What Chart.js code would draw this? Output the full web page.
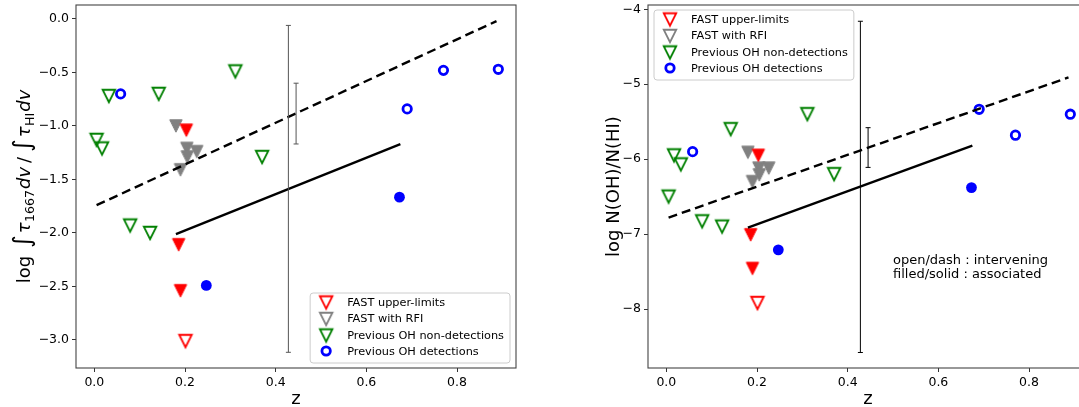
<!DOCTYPE html>
<html>
<head>
<meta charset="utf-8">
<script src="https://cdn.jsdelivr.net/npm/chart.js@4.4.0/dist/chart.umd.min.js"></script>
<style>
  html, body { margin: 0; padding: 0; background: #fff; overflow: hidden; }
  #wrap { position: relative; width: 1079px; height: 407px; overflow: hidden; }
  #left { position: absolute; left: 0; top: 0; }
  #right { position: absolute; left: 540px; top: 0; }
</style>
</head>
<body>
<div id="wrap">
  <canvas id="left" width="540" height="407" style="width:540px;height:407px"></canvas>
  <canvas id="right" width="550" height="407" style="width:550px;height:407px"></canvas>
</div>
<script>
// ---- data (z = redshift, ratio = log ∫τ1667dv/∫τHIdv, abund = log N(OH)/N(HI)) ----
const zTicks = [0.0, 0.2, 0.4, 0.6, 0.8];
const ratioTicks = [0.0, -0.5, -1.0, -1.5, -2.0, -2.5, -3.0];
const abundTicks = [-4, -5, -6, -7, -8];

// FAST upper limits: filled = associated, open = intervening
const fastFilledZ = [0.203, 0.186, 0.190];
const fastFilledRatio = [-1.04, -2.11, -2.54];
const fastFilledAbund = [-5.95, -7.01, -7.46];
const fastOpenZ = [0.201];
const fastOpenRatio = [-3.01];
const fastOpenAbund = [-7.92];

// FAST with RFI
const rfiZ = [0.180, 0.204, 0.226, 0.205, 0.190];
const rfiRatio = [-1.00, -1.21, -1.24, -1.29, -1.41];
const rfiAbund = [-5.91, -6.12, -6.12, -6.21, -6.30];

// previous OH non-detections
const nonDetZ = [0.005, 0.017, 0.032, 0.079, 0.123, 0.142, 0.311, 0.370];
const nonDetRatio = [-1.13, -1.21, -0.72, -1.93, -2.00, -0.70, -0.49, -1.29];
const nonDetAbund = [-6.50, -5.95, -6.07, -6.83, -6.90, -5.60, -5.40, -6.20];

// previous OH detections
const detOpenZ = [0.058, 0.690, 0.770, 0.891];
const detOpenRatio = [-0.70, -0.84, -0.48, -0.47];
const detOpenAbund = [-5.90, -5.335, -5.68, -5.40];
const detFilledZ = [0.673, 0.247];
const detFilledRatio = [-1.665, -2.49];
const detFilledAbund = [-6.38, -7.21];

// fitted lines
const dashZ = [0.005, 0.887];
const dashRatio = [-1.74, -0.02];
const dashAbund = [-6.78, -4.91];
const solidZ = [0.18, 0.675];
const solidRatio = [-2.01, -1.17];
const solidAbund = [-6.915, -5.82];

// representative error bars
const errZ = [0.428, 0.445];
const errRatioLo = [-3.115, -1.168];
const errRatioHi = [-0.06, -0.60];
const errAbundLo = [-8.58, -6.11];
const errAbundHi = [-4.16, -5.58];

const legendLabels = ['FAST upper-limits', 'FAST with RFI', 'Previous OH non-detections', 'Previous OH detections'];
const noteLines = ['open/dash : intervening', 'filled/solid : associated'];
const noteZ = 0.50;
const noteAbund = -7.35;

// ---- styling helpers ----
const FONT = '"DejaVu Sans", "Liberation Sans", sans-serif';
const RED = '#ff0000', GRAY = '#808080', GREEN = '#008000', BLUE = '#0000ff';

function triangle(color, filled) {
    // matplotlib 'v' marker: bounding box centred on the point
    const c = document.createElement('canvas');
    c.width = 18; c.height = 18;
    const g = c.getContext('2d');
    const s = 12.4, m = 9;
    g.beginPath();
    g.moveTo(m - s / 2, m - s / 2);
    g.lineTo(m + s / 2, m - s / 2);
    g.lineTo(m, m + s / 2);
    g.closePath();
    g.strokeStyle = color;
    if (filled) {
        g.fillStyle = color;
        g.fill();
        g.lineWidth = 1;
    } else {
        g.lineWidth = 1.9;
    }
    g.stroke();
    return c;
}

const triRedOpen = triangle(RED, false);
const triRedFilled = triangle(RED, true);
const triGrayOpen = triangle(GRAY, false);
const triGrayFilled = triangle(GRAY, true);
const triGreenOpen = triangle(GREEN, false);

const pts = (xs, ys) => xs.map((x, i) => ({ x: x, y: ys[i] }));

function markerSet(data, style) {
    return Object.assign({
        data: data,
        showLine: false,
        pointRadius: 7,
        pointHoverRadius: 7,
        pointBorderWidth: 0,
        pointBackgroundColor: 'rgba(0,0,0,0)',
        pointBorderColor: 'rgba(0,0,0,0)'
    }, style);
}

function lineSet(data, dash) {
    return {
        data: data,
        showLine: true,
        borderColor: '#000',
        borderWidth: 2.4,
        borderDash: dash,
        pointRadius: 0,
        fill: false
    };
}

const legendMarkers = [
    { img: triRedOpen },
    { img: triGrayOpen },
    { img: triGreenOpen },
    { circle: true }
];

function makeDecor(cfg) {
    return {
        id: 'decor',
        afterDatasetsDraw(chart) {
            const ctx = chart.ctx;
            const a = chart.chartArea;
            const xs = chart.scales.x, ys = chart.scales.y;
            ctx.save();

            // error bars
            ctx.strokeStyle = cfg.errColor;
            ctx.lineWidth = 1;
            errZ.forEach((z, i) => {
                const px = xs.getPixelForValue(z);
                const top = ys.getPixelForValue(cfg.errHi[i]);
                const bot = ys.getPixelForValue(cfg.errLo[i]);
                ctx.beginPath();
                ctx.moveTo(px, top); ctx.lineTo(px, bot);
                ctx.moveTo(px - 2.5, top); ctx.lineTo(px + 2.5, top);
                ctx.moveTo(px - 2.5, bot); ctx.lineTo(px + 2.5, bot);
                ctx.stroke();
            });

            // frame
            ctx.strokeStyle = '#444';
            ctx.lineWidth = 1.1;
            ctx.strokeRect(a.left, a.top, a.right - a.left, a.bottom - a.top);

            // legend
            ctx.font = '11.3px ' + FONT;
            const tw = Math.max.apply(null, legendLabels.map(t => ctx.measureText(t).width));
            const bw = 37 + tw + 6, bh = 70;
            let bx, by;
            if (cfg.legendCorner === 'br') {
                bx = a.right - 6 - bw; by = a.bottom - 5 - bh;
            } else {
                bx = a.left + 6; by = a.top + 5;
            }
            ctx.beginPath();
            ctx.roundRect(bx, by, bw, bh, 3);
            ctx.fillStyle = 'rgba(255,255,255,0.85)';
            ctx.fill();
            ctx.strokeStyle = '#cccccc';
            ctx.lineWidth = 1;
            ctx.stroke();
            legendLabels.forEach((label, i) => {
                const my = by + 9.5 + i * 16.5;
                const mx = bx + 16;
                const mk = legendMarkers[i];
                if (mk.img) {
                    ctx.drawImage(mk.img, mx - 9, my - 9);
                } else {
                    ctx.beginPath();
                    ctx.arc(mx, my - 1, 4.2, 0, Math.PI * 2);
                    ctx.strokeStyle = BLUE;
                    ctx.lineWidth = 2.8;
                    ctx.stroke();
                }
                ctx.fillStyle = '#000';
                ctx.textAlign = 'left';
                ctx.textBaseline = 'middle';
                ctx.fillText(label, bx + 37, my + 0.5);
            });

            // note text
            if (cfg.note) {
                ctx.font = '13px ' + FONT;
                ctx.fillStyle = '#000';
                ctx.textAlign = 'left';
                ctx.textBaseline = 'middle';
                const nx = xs.getPixelForValue(noteZ);
                const ny = ys.getPixelForValue(noteAbund);
                noteLines.forEach((t, i) => ctx.fillText(t, nx, ny + i * 14));
            }

            // x title
            ctx.font = '18px ' + FONT;
            ctx.fillStyle = '#000';
            ctx.textAlign = 'center';
            ctx.textBaseline = 'alphabetic';
            ctx.fillText('z', (a.left + a.right) / 2, 404);

            // y title (rotated, with sub-scripts)
            const parts = cfg.yParts;
            const widths = parts.map(p => {
                ctx.font = (p.it ? 'italic ' : '') + p.s + 'px ' + FONT;
                return ctx.measureText(p.t).width + (p.g || 0);
            });
            const span = widths.reduce((s, w) => s + w, 0);
            ctx.translate(cfg.yBase, (a.top + a.bottom) / 2);
            ctx.rotate(-Math.PI / 2);
            ctx.textAlign = 'left';
            let cx = -span / 2;
            parts.forEach((p, i) => {
                ctx.font = (p.it ? 'italic ' : '') + p.s + 'px ' + FONT;
                ctx.fillText(p.t, cx, p.dy || 0);
                cx += widths[i];
            });
            ctx.restore();
        }
    };
}

function makePanel(canvasId, cfg) {
    const tickFont = { family: FONT, size: 12.5 };
    new Chart(document.getElementById(canvasId), {
        type: 'scatter',
        data: {
            datasets: [
                lineSet(pts(dashZ, cfg.dash), [9, 5]),
                lineSet(pts(solidZ, cfg.solid), []),
                markerSet(pts(fastFilledZ, cfg.fastFilled), { pointStyle: triRedFilled }),
                markerSet(pts(fastOpenZ, cfg.fastOpen), { pointStyle: triRedOpen }),
                markerSet(pts(rfiZ, cfg.rfi), { pointStyle: triGrayFilled }),
                markerSet(pts(nonDetZ, cfg.nonDet), { pointStyle: triGreenOpen }),
                markerSet(pts(detOpenZ, cfg.detOpen), {
                    pointStyle: 'circle', pointRadius: 4.2, pointHoverRadius: 4.2,
                    pointBorderWidth: 2.8, pointBorderColor: BLUE
                }),
                markerSet(pts(detFilledZ, cfg.detFilled), {
                    pointStyle: 'circle', pointRadius: 5.4, pointHoverRadius: 5.4,
                    pointBackgroundColor: BLUE, pointBorderColor: BLUE
                })
            ]
        },
        options: {
            responsive: false,
            animation: false,
            events: [],
            layout: { autoPadding: false, padding: { top: 5, right: cfg.padRight, bottom: 0, left: 0 } },
            plugins: { legend: { display: false }, tooltip: { enabled: false } },
            scales: {
                x: {
                    type: 'linear',
                    min: -0.0404,
                    max: 0.93,
                    afterBuildTicks: s => { s.ticks = zTicks.map(v => ({ value: v })); },
                    afterFit: s => { s.height = 39; s.paddingLeft = 0; s.paddingRight = 0; },
                    border: { display: false },
                    grid: { drawOnChartArea: false, drawTicks: true, tickLength: 4, tickColor: '#333' },
                    ticks: {
                        autoSkip: false, maxRotation: 0, padding: 3, color: '#000', font: tickFont,
                        callback: v => v.toFixed(1)
                    }
                },
                y: {
                    type: 'linear',
                    min: cfg.yMin,
                    max: cfg.yMax,
                    afterBuildTicks: s => { s.ticks = cfg.yTicks.map(v => ({ value: v })); },
                    afterFit: s => { s.width = cfg.axisWidth; s.paddingTop = 0; s.paddingBottom = 0; },
                    border: { display: false },
                    grid: { drawOnChartArea: false, drawTicks: true, tickLength: 4, tickColor: '#333' },
                    ticks: {
                        autoSkip: false, padding: 3, color: '#000', font: tickFont,
                        callback: v => (v < 0 ? '\u2212' : '') + Math.abs(v).toFixed(cfg.decimals)
                    }
                }
            }
        },
        plugins: [makeDecor(cfg)]
    });
}

makePanel('left', {
    dash: dashRatio, solid: solidRatio,
    fastFilled: fastFilledRatio, fastOpen: fastOpenRatio, rfi: rfiRatio,
    nonDet: nonDetRatio, detOpen: detOpenRatio, detFilled: detFilledRatio,
    errLo: errRatioLo, errHi: errRatioHi, errColor: '#555',
    yMin: -3.2617, yMax: 0.1308, yTicks: ratioTicks, decimals: 1,
    axisWidth: 76, padRight: 24, legendCorner: 'br', note: false,
    yBase: 29.5,
    yParts: [
        { t: 'log', s: 18, g: 8 },
        { t: '\u222B', s: 24, g: 2 },
        { t: '\u03C4', s: 18, it: true, g: 0.5 },
        { t: '1667', s: 12.6, dy: 4, g: 1 },
        { t: 'dv', s: 18, it: true, g: 4 },
        { t: '/', s: 18, g: 5 },
        { t: '\u222B', s: 24, g: 2 },
        { t: '\u03C4', s: 18, it: true, g: 0.5 },
        { t: 'HI', s: 12.6, dy: 4, g: 1 },
        { t: 'dv', s: 18, it: true }
    ]
});

makePanel('right', {
    dash: dashAbund, solid: solidAbund,
    fastFilled: fastFilledAbund, fastOpen: fastOpenAbund, rfi: rfiAbund,
    nonDet: nonDetAbund, detOpen: detOpenAbund, detFilled: detFilledAbund,
    errLo: errAbundLo, errHi: errAbundHi, errColor: '#000',
    yMin: -8.787, yMax: -3.943, yTicks: abundTicks, decimals: 0,
    axisWidth: 108, padRight: 2, legendCorner: 'tl', note: true,
    yBase: 78.5,
    yParts: [{ t: 'log N(OH)/N(HI)', s: 18 }]
});
</script>
</body>
</html>
